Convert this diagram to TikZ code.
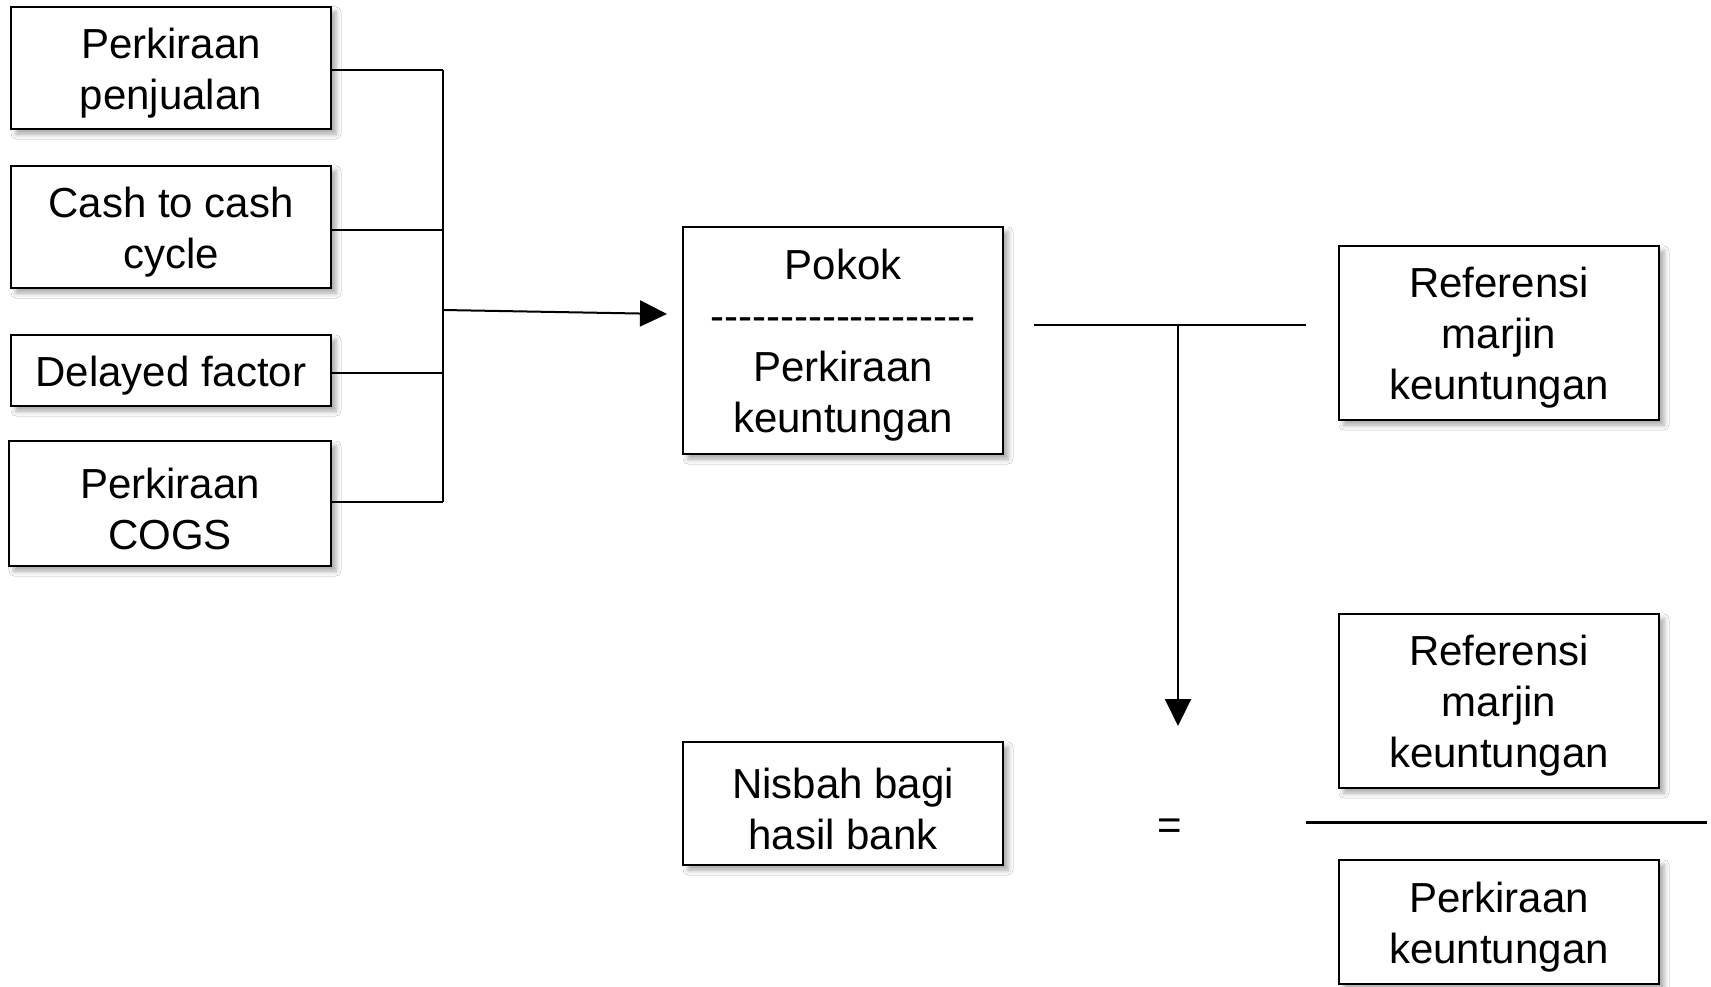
\documentclass[tikz,border=0pt]{standalone}
\usepackage{fontspec}
\setmainfont{Liberation Sans}
\usetikzlibrary{arrows.meta,shadows.blur}
\newcommand{\hyphenrow}{-{}-{}-{}-{}-{}-{}-{}-{}-{}-{}-{}-{}-{}-{}-{}-{}-{}-{}-{}}
\begin{document}
\begin{tikzpicture}[x=1pt,y=-1pt,
  box/.style={draw=black, line width=2pt, fill=white, rectangle, inner sep=0pt,
    minimum width=320pt,
    blur shadow={shadow xshift=5pt, shadow yshift=-5pt, shadow blur radius=5pt, shadow opacity=35}},
  txt/.style={inner sep=0pt, align=center, font=\fontsize{42}{51}\selectfont},
  conn/.style={draw=black, line width=2pt},
  arr/.style={conn, -{Triangle[length=27pt,width=26pt]}}
]
\useasboundingbox (0,0) rectangle (1711,987);
\fill[white] (0,0) rectangle (1711,987);

% boxes
\node[box, minimum height=122pt] (p1) at (171,68) {};
\node[box, minimum height=122pt] (p2) at (171,227) {};
\node[box, minimum height=71pt] (p3) at (171,370.5) {};
\node[box, minimum width=322pt, minimum height=125pt] (p4) at (170,503.5) {};
\node[box, minimum height=227pt] (pokok) at (843,340.5) {};
\node[box, minimum height=174pt] (ref1) at (1499,333) {};
\node[box, minimum height=174pt] (ref2) at (1499,701) {};
\node[box, minimum height=123pt] (nisbah) at (843,803.5) {};
\node[box, minimum height=124pt] (pk) at (1499,922) {};

% texts
\node[txt] (p1t) at ([yshift=-5pt]p1.center) {Perkiraan\\penjualan};
\node[txt] (p2t) at ([yshift=-5pt]p2.center) {Cash to cash\\cycle};
\node[txt] (p3t) at ([yshift=-5pt]p3.center) {Delayed factor};
\node[txt] (p4t) at ([yshift=-5pt]p4.center) {Perkiraan\\COGS};
\node[txt] (pokokt) at ([yshift=-5pt]pokok.center) {Pokok\\\hyphenrow\\Perkiraan\\keuntungan};
\node[txt] (ref1t) at ([yshift=-5pt]ref1.center) {Referensi\\marjin\\keuntungan};
\node[txt] (ref2t) at ([yshift=-5pt]ref2.center) {Referensi\\marjin\\keuntungan};
\node[txt] (nisbaht) at ([yshift=-5pt]nisbah.center) {Nisbah bagi\\hasil bank};
\node[txt] (pkt) at ([yshift=-5pt]pk.center) {Perkiraan\\keuntungan};
\node[txt] (eq) at (1170,829) {=};

% bus
\coordinate (bt) at (443,70);
\coordinate (bb) at (443,502);
\coordinate (bj) at (443,310);
\coordinate (tip) at (667,314);
\draw[conn] (bt) -- (bb);
\draw[conn] (p1.east |- bt) -- (bt);
\draw[conn] (p2.east |- 0,230) -- (443,230);
\draw[conn] (p3.east |- 0,373) -- (443,373);
\draw[conn] (p4.east |- bb) -- (bb);
\draw[arr] (bj) -- (tip);

% T connector
\coordinate (tl) at (1034,325);
\coordinate (tr) at (1306,325);
\coordinate (tm) at (1178,325);
\coordinate (td) at (1178,726);
\draw[conn, line width=2.5pt] (tl) -- (tr);
\draw[arr] (tm) -- (td);

% fraction line
\coordinate (fl) at (1306,822);
\coordinate (fr) at (1707,822);
\draw[conn, line width=3pt] (fl) -- (fr);
\end{tikzpicture}
\end{document}
